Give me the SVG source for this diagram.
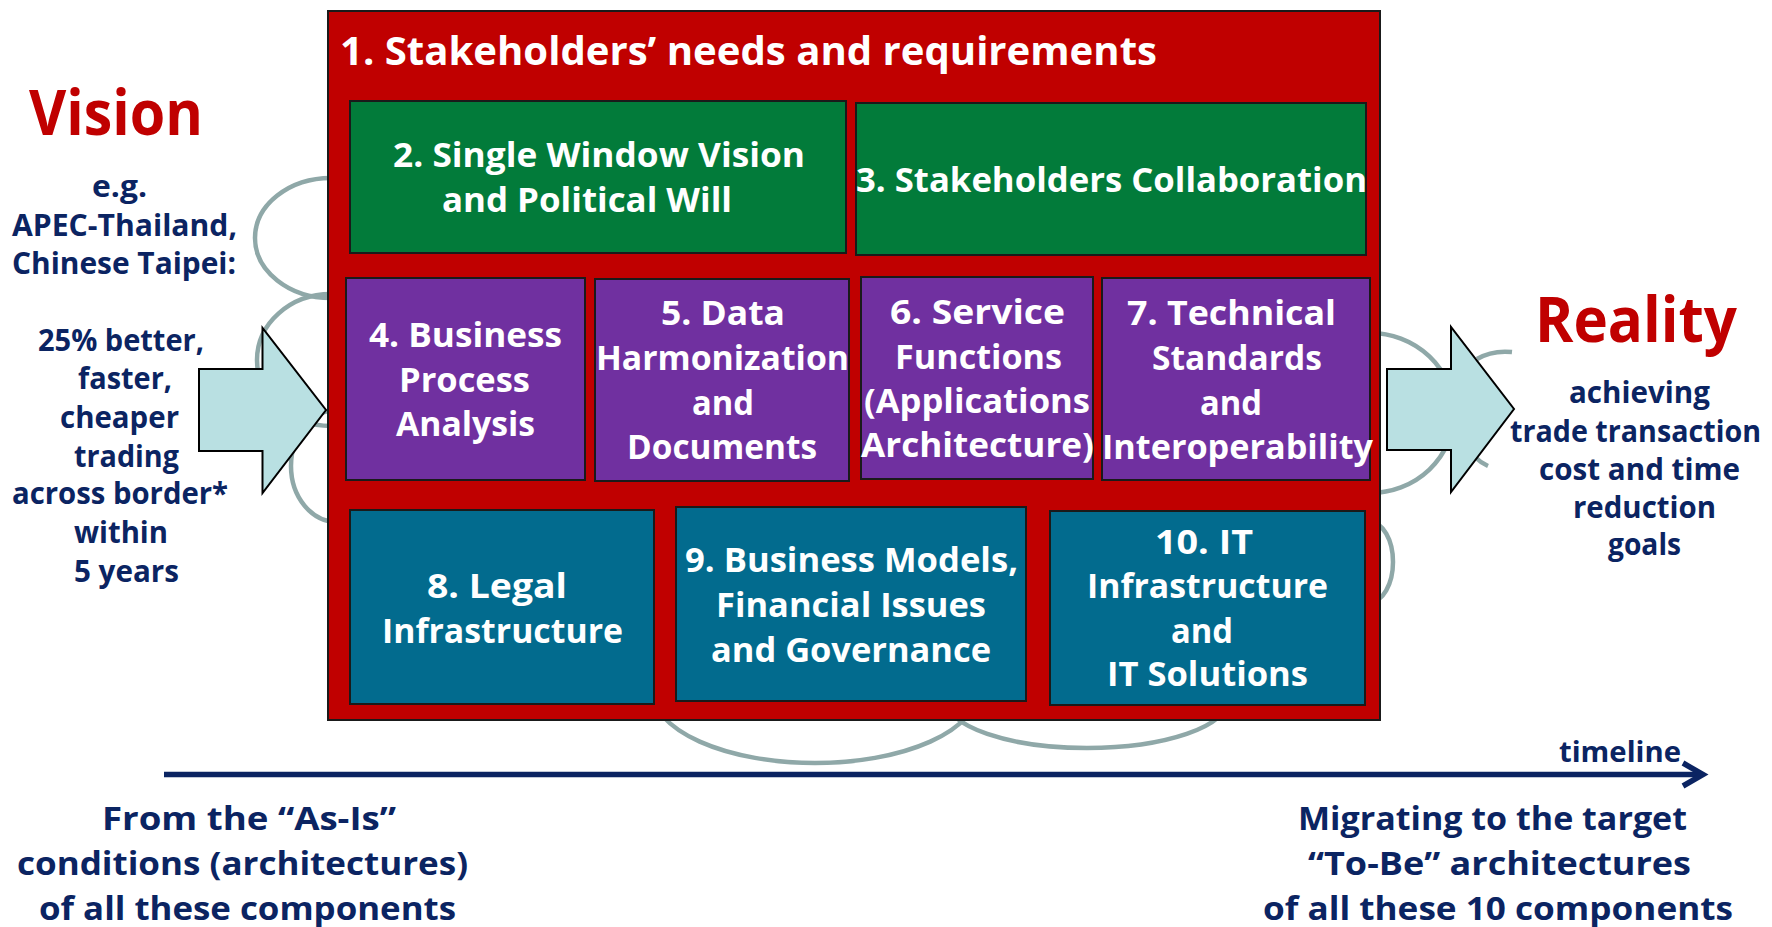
<svg xmlns="http://www.w3.org/2000/svg" width="1772" height="927" viewBox="0 0 1772 927">
<style>
.bg{fill:#ffffff}
.cloud{fill:none;stroke:#8fa8a8;stroke-width:4.5}
.outer{fill:#c00000;stroke:#1a1a1a;stroke-width:2}
.green{fill:#027b3a;stroke:#1a1a1a;stroke-width:2}
.purple{fill:#7030a0;stroke:#1a1a1a;stroke-width:2}
.teal{fill:#026b8e;stroke:#1a1a1a;stroke-width:2}
.arrow{fill:#b9e0e2;stroke:#000000;stroke-width:2;stroke-linejoin:miter}
.tl{fill:none;stroke:#0b2462;stroke-width:5.5}
text{font-family:"Open Sans","DejaVu Sans",sans-serif;font-weight:700}
.w{fill:#ffffff;font-size:34px}
.t1{fill:#ffffff;font-size:40px}
.n{fill:#0b2462;font-size:30px}
.nb{fill:#0b2462;font-size:33px}
.big{fill:#c00000;font-size:63px}
</style>
<rect class="bg" x="0" y="0" width="1772" height="927"/>

<g id="cloud">
  <ellipse class="cloud" cx="331" cy="238" rx="76" ry="60"/>
  <ellipse class="cloud" cx="331" cy="360" rx="74" ry="66"/>
  <ellipse class="cloud" cx="337" cy="466" rx="46" ry="56"/>
  <ellipse class="cloud" cx="1370" cy="413" rx="84" ry="80"/>
  <path class="cloud" d="M1477,359 Q1492,350 1512,352"/>
  <path class="cloud" d="M1475,457 Q1481,463 1488,466"/>
  <ellipse class="cloud" cx="1370" cy="562" rx="23" ry="40"/>
  <ellipse class="cloud" cx="815" cy="690" rx="163" ry="73"/>
  <ellipse class="cloud" cx="1087" cy="700" rx="141" ry="48"/>
</g>

<g id="node-1">
  <rect class="outer" x="328" y="11" width="1052" height="709"/>
  <text class="t1" x="340" y="65" textLength="817" lengthAdjust="spacingAndGlyphs">1. Stakeholders’ needs and requirements</text>
</g>

<g id="node-2">
  <rect class="green" x="350" y="101" width="496" height="152"/>
  <text class="w" x="393" y="167" textLength="412" lengthAdjust="spacingAndGlyphs">2. Single Window Vision</text>
  <text class="w" x="442" y="212" textLength="290" lengthAdjust="spacingAndGlyphs">and Political Will</text>
</g>

<g id="node-3">
  <rect class="green" x="856" y="103" width="510" height="152"/>
  <text class="w" x="856" y="192" textLength="511" lengthAdjust="spacingAndGlyphs">3. Stakeholders Collaboration</text>
</g>

<g id="node-4">
  <rect class="purple" x="346" y="278" width="239" height="202"/>
  <text class="w" x="369" y="347" textLength="193" lengthAdjust="spacingAndGlyphs">4. Business</text>
  <text class="w" x="399" y="392" textLength="131" lengthAdjust="spacingAndGlyphs">Process</text>
  <text class="w" x="396" y="436" textLength="139" lengthAdjust="spacingAndGlyphs">Analysis</text>
</g>

<g id="node-5">
  <rect class="purple" x="595" y="279" width="254" height="202"/>
  <text class="w" x="661" y="325" textLength="124" lengthAdjust="spacingAndGlyphs">5. Data</text>
  <text class="w" x="596" y="370" textLength="253" lengthAdjust="spacingAndGlyphs">Harmonization</text>
  <text class="w" x="692" y="415" textLength="62" lengthAdjust="spacingAndGlyphs">and</text>
  <text class="w" x="627" y="459" textLength="190" lengthAdjust="spacingAndGlyphs">Documents</text>
</g>

<g id="node-6">
  <rect class="purple" x="861" y="277" width="232" height="202"/>
  <text class="w" x="890" y="324" textLength="175" lengthAdjust="spacingAndGlyphs">6. Service</text>
  <text class="w" x="895" y="369" textLength="167" lengthAdjust="spacingAndGlyphs">Functions</text>
  <text class="w" x="864" y="413" textLength="226" lengthAdjust="spacingAndGlyphs">(Applications</text>
  <text class="w" x="861" y="457" textLength="233" lengthAdjust="spacingAndGlyphs">Architecture)</text>
</g>

<g id="node-7">
  <rect class="purple" x="1102" y="278" width="268" height="202"/>
  <text class="w" x="1127" y="325" textLength="209" lengthAdjust="spacingAndGlyphs">7. Technical</text>
  <text class="w" x="1152" y="370" textLength="170" lengthAdjust="spacingAndGlyphs">Standards</text>
  <text class="w" x="1200" y="415" textLength="62" lengthAdjust="spacingAndGlyphs">and</text>
  <text class="w" x="1102" y="459" textLength="271" lengthAdjust="spacingAndGlyphs">Interoperability</text>
</g>

<g id="node-8">
  <rect class="teal" x="350" y="510" width="304" height="194"/>
  <text class="w" x="427" y="598" textLength="140" lengthAdjust="spacingAndGlyphs">8. Legal</text>
  <text class="w" x="382" y="643" textLength="241" lengthAdjust="spacingAndGlyphs">Infrastructure</text>
</g>

<g id="node-9">
  <rect class="teal" x="676" y="507" width="350" height="194"/>
  <text class="w" x="685" y="572" textLength="333" lengthAdjust="spacingAndGlyphs">9. Business Models,</text>
  <text class="w" x="716" y="617" textLength="270" lengthAdjust="spacingAndGlyphs">Financial Issues</text>
  <text class="w" x="711" y="662" textLength="280" lengthAdjust="spacingAndGlyphs">and Governance</text>
</g>

<g id="node-10">
  <rect class="teal" x="1050" y="511" width="315" height="194"/>
  <text class="w" x="1155" y="554" textLength="98" lengthAdjust="spacingAndGlyphs">10. IT</text>
  <text class="w" x="1087" y="598" textLength="241" lengthAdjust="spacingAndGlyphs">Infrastructure</text>
  <text class="w" x="1171" y="643" textLength="62" lengthAdjust="spacingAndGlyphs">and</text>
  <text class="w" x="1107" y="686" textLength="201" lengthAdjust="spacingAndGlyphs">IT Solutions</text>
</g>

<g id="connectors">
  <polygon class="arrow" points="199,369 262.5,369 262.5,328 326,410 262.5,493 262.5,451 199,451"/>
  <polygon class="arrow" points="1387,369 1451,369 1451,327 1514,409 1451,492 1451,450 1387,450"/>
  <line class="tl" x1="164" y1="774.5" x2="1702" y2="774.5"/>
  <polyline class="tl" points="1683,763 1703,774.5 1683,786"/>
</g>

<g id="vision">
  <text class="big" x="29" y="135" textLength="174" lengthAdjust="spacingAndGlyphs">Vision</text>
  <text class="n" x="92" y="197" textLength="55" lengthAdjust="spacingAndGlyphs">e.g.</text>
  <text class="n" x="12" y="236" textLength="225" lengthAdjust="spacingAndGlyphs">APEC-Thailand,</text>
  <text class="n" x="12" y="274" textLength="224" lengthAdjust="spacingAndGlyphs">Chinese Taipei:</text>
  <text class="n" x="38" y="351" textLength="166" lengthAdjust="spacingAndGlyphs">25% better,</text>
  <text class="n" x="78" y="389" textLength="94" lengthAdjust="spacingAndGlyphs">faster,</text>
  <text class="n" x="60" y="428" textLength="119" lengthAdjust="spacingAndGlyphs">cheaper</text>
  <text class="n" x="74" y="467" textLength="105" lengthAdjust="spacingAndGlyphs">trading</text>
  <text class="n" x="12" y="504" textLength="216" lengthAdjust="spacingAndGlyphs">across border*</text>
  <text class="n" x="74" y="543" textLength="94" lengthAdjust="spacingAndGlyphs">within</text>
  <text class="n" x="74" y="582" textLength="105" lengthAdjust="spacingAndGlyphs">5 years</text>
</g>

<g id="reality">
  <text class="big" x="1535" y="342" textLength="202" lengthAdjust="spacingAndGlyphs">Reality</text>
  <text class="n" x="1569" y="403" textLength="141" lengthAdjust="spacingAndGlyphs">achieving</text>
  <text class="n" x="1510" y="442" textLength="251" lengthAdjust="spacingAndGlyphs">trade transaction</text>
  <text class="n" x="1539" y="480" textLength="201" lengthAdjust="spacingAndGlyphs">cost and time</text>
  <text class="n" x="1573" y="518" textLength="143" lengthAdjust="spacingAndGlyphs">reduction</text>
  <text class="n" x="1608" y="555" textLength="73" lengthAdjust="spacingAndGlyphs">goals</text>
</g>

<g id="timeline-labels">
  <text class="n" style="font-size:29px" x="1559" y="762" textLength="122" lengthAdjust="spacingAndGlyphs">timeline</text>
  <text class="nb" x="102" y="830" textLength="294" lengthAdjust="spacingAndGlyphs">From the “As-Is”</text>
  <text class="nb" x="17" y="875" textLength="451" lengthAdjust="spacingAndGlyphs">conditions (architectures)</text>
  <text class="nb" x="39" y="920" textLength="417" lengthAdjust="spacingAndGlyphs">of all these components</text>
  <text class="nb" x="1298" y="830" textLength="389" lengthAdjust="spacingAndGlyphs">Migrating to the target</text>
  <text class="nb" x="1308" y="875" textLength="383" lengthAdjust="spacingAndGlyphs">“To-Be” architectures</text>
  <text class="nb" x="1263" y="920" textLength="470" lengthAdjust="spacingAndGlyphs">of all these 10 components</text>
</g>
</svg>
